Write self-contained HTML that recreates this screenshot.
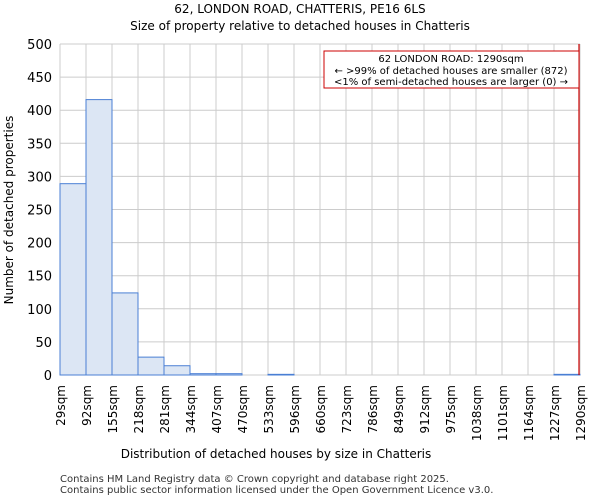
<!DOCTYPE html>
<html><head><meta charset="utf-8"><style>
body{margin:0;background:#fff;font-family:"DejaVu Sans","Liberation Sans",sans-serif;}
</style></head><body>
<svg width="600" height="500" xmlns="http://www.w3.org/2000/svg" font-family="DejaVu Sans, Liberation Sans, sans-serif">
<text x="300" y="13" text-anchor="middle" font-size="12">62, LONDON ROAD, CHATTERIS, PE16 6LS</text>
<text x="300" y="30" text-anchor="middle" font-size="12">Size of property relative to detached houses in Chatteris</text>
<g id="grid"></g>
<g id="bars"></g>
<g id="axes"></g>
<text x="276" y="458" text-anchor="middle" font-size="12">Distribution of detached houses by size in Chatteris</text>
<text transform="translate(13,210) rotate(-90)" text-anchor="middle" font-size="12">Number of detached properties</text>
<g>
<rect x="324" y="51" width="255" height="37" fill="#fff" stroke="#cc0000" stroke-width="1"/>
<text x="451" y="62" text-anchor="middle" font-size="10">62 LONDON ROAD: 1290sqm</text>
<text x="451" y="74" text-anchor="middle" font-size="10">← &gt;99% of detached houses are smaller (872)</text>
<text x="451" y="85" text-anchor="middle" font-size="10">&lt;1% of semi-detached houses are larger (0) →</text>
</g>
<text x="60" y="482" font-size="10" fill="#333">Contains HM Land Registry data © Crown copyright and database right 2025.</text>
<text x="60" y="493" font-size="10" fill="#333">Contains public sector information licensed under the Open Government Licence v3.0.</text>
</svg>
<script>
const binLabels=["29sqm","92sqm","155sqm","218sqm","281sqm","344sqm","407sqm","470sqm","533sqm","596sqm","660sqm","723sqm","786sqm","849sqm","912sqm","975sqm","1038sqm","1101sqm","1164sqm","1227sqm","1290sqm"];
const counts=[289,416,124,27,14,2,2,0,1,0,0,0,0,0,0,0,0,0,0,1];
const yTicks=[0,50,100,150,200,250,300,350,400,450,500];
const markerIndex=20;
const NS="http://www.w3.org/2000/svg";
const X0=60,X1=580,Y0=375,Y1=44,YMAX=500;
const bw=(X1-X0)/(binLabels.length-1);
const xs=i=>X0+i*bw;
const ys=v=>Y0-(v/YMAX)*(Y0-Y1);
function mk(t,a,p){const e=document.createElementNS(NS,t);for(const k in a)e.setAttribute(k,a[k]);p.appendChild(e);return e;}
const grid=document.getElementById('grid'),bars=document.getElementById('bars'),axes=document.getElementById('axes');
yTicks.forEach(v=>{
 const l=mk('line',{x1:X0,x2:X1,y1:ys(v),y2:ys(v),stroke:'#cccccc'},grid);
 
 
 const t=mk('text',{x:X0-8,y:ys(v)+5,'text-anchor':'end','font-size':'13'},axes);
 t.textContent=v;
 
 
});
binLabels.forEach((lab,i)=>{
 const l=mk('line',{x1:xs(i),x2:xs(i),y1:Y1,y2:Y0,stroke:'#cccccc'},grid);
 
 
 const t=mk('text',{transform:`translate(${xs(i)+5},${Y0+10}) rotate(-90)`,'text-anchor':'end','font-size':'12'},axes);
 t.textContent=lab;
 
 
});
counts.forEach((c,i)=>{
 if(c<=0)return;
 const r=mk('rect',{x:xs(i),y:ys(c),width:bw,height:Y0-ys(c),fill:'#dce6f4',stroke:'#4a7fd4','stroke-width':'1'},bars);
 
 
});
const ml=mk('line',{x1:xs(markerIndex)-1,x2:xs(markerIndex)-1,y1:Y1,y2:Y0,stroke:'#cc0000','stroke-width':'1.2'},bars);


</script>
</body></html>
